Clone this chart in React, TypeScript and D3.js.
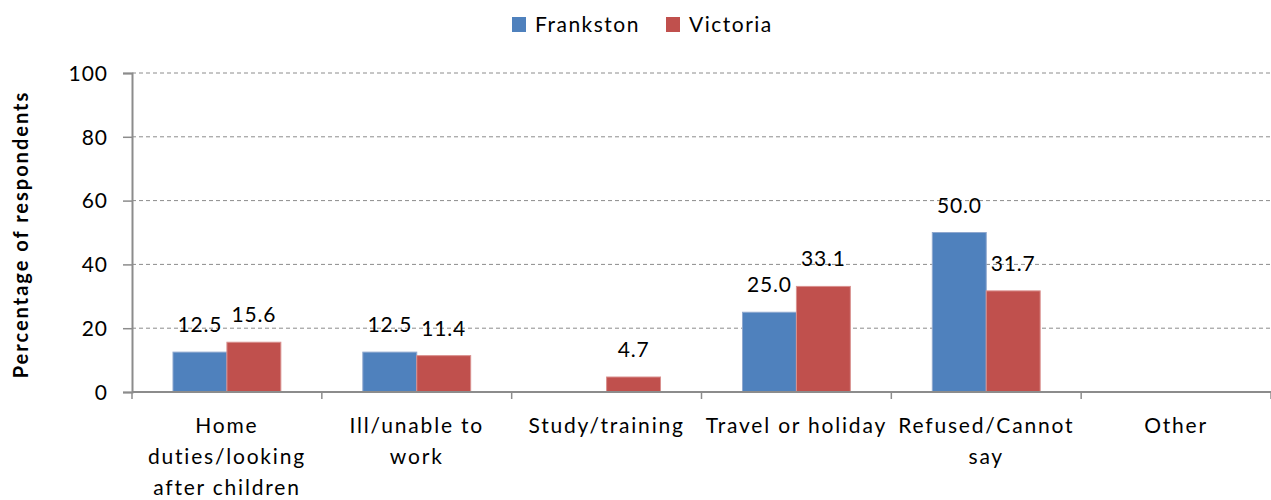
import { useRef, useEffect } from "react";
import * as d3 from "d3";

const categories = [
  "Home\nduties/looking\nafter children",
  "Ill/unable to\nwork",
  "Study/training",
  "Travel or holiday",
  "Refused/Cannot\nsay",
  "Other",
];
const frankston = [12.5, 12.5, 0, 25.0, 50.0, 0];
const victoria = [15.6, 11.4, 4.7, 33.1, 31.7, 0];
const seriesNames = ["Frankston", "Victoria"];
const seriesColors = ["#4F81BD", "#C0504D"];
const yTicks = [0, 20, 40, 60, 80, 100];

const FONT = "Lato, 'Open Sans', sans-serif";

const App = () => {
  const svgRef = useRef<SVGSVGElement>(null);

  useEffect(() => {
    const width = 1271;
    const height = 500;
    const svg = d3.select(svgRef.current);
    svg.selectAll("*").remove();

    const left = 132;
    const right = 1271;
    const top = 73;
    const bottom = 392;

    const x = d3.scaleBand().domain(categories).range([left, right]);
    const xInner = d3
      .scaleBand()
      .domain(seriesNames)
      .range([0, x.bandwidth()])
      .paddingInner(0)
      .paddingOuter(0.76);
    const y = d3.scaleLinear().domain([0, 100]).range([bottom, top]);

    // grid lines
    svg
      .append("g")
      .selectAll("line")
      .data(yTicks.filter((t) => t > 0))
      .enter()
      .append("line")
      .attr("x1", left)
      .attr("x2", right)
      .attr("y1", (d) => y(d))
      .attr("y2", (d) => y(d))
      .attr("stroke", "#8c8c8c")
      .attr("stroke-dasharray", "4,3")
      .attr("stroke-width", 1);

    // y axis
    const yAxis = svg
      .append("g")
      .attr("transform", `translate(${left},0)`)
      .call(d3.axisLeft(y).tickValues(yTicks).tickSize(9).tickPadding(15));
    yAxis.select(".domain").attr("stroke", "#8c8c8c").attr("stroke-width", 2);
    yAxis.selectAll(".tick line").attr("stroke", "#8c8c8c").attr("stroke-width", 1.5);
    yAxis
      .selectAll(".tick text")
      .attr("font-family", FONT)
      .attr("font-size", 21)
      .attr("letter-spacing", 1)
      .attr("fill", "#000")
      .attr("dy", "0.35em");

    // bars
    const series = [frankston, victoria];
    const groups = svg
      .append("g")
      .selectAll("g")
      .data(categories)
      .enter()
      .append("g")
      .attr("transform", (d) => `translate(${x(d)},0)`);

    groups.each(function (cat, i) {
      const g = d3.select(this);
      seriesNames.forEach((name, s) => {
        const v = series[s][i];
        if (v <= 0) return;
        const bx = xInner(name)!;
        g.append("rect")
          .attr("x", bx)
          .attr("y", y(v))
          .attr("width", xInner.bandwidth())
          .attr("height", y(0) - y(v))
          .attr("fill", seriesColors[s])
          .attr("stroke", s === 0 ? "#8fa8cf" : "#d9908e")
          .attr("stroke-width", 1);
        g.append("text")
          .attr("x", bx + xInner.bandwidth() / 2)
          .attr("y", y(v) - 20)
          .attr("text-anchor", "middle")
          .attr("font-family", FONT)
          .attr("font-size", 21)
          .attr("letter-spacing", 0.8)
          .text(v.toFixed(1));
      });
    });

    // x axis
    svg
      .append("line")
      .attr("x1", left)
      .attr("x2", right)
      .attr("y1", bottom)
      .attr("y2", bottom)
      .attr("stroke", "#8c8c8c")
      .attr("stroke-width", 2);
    const bounds = categories.map((c) => x(c)!).concat([right]);
    svg
      .append("g")
      .selectAll("line")
      .data(bounds)
      .enter()
      .append("line")
      .attr("x1", (d) => d)
      .attr("x2", (d) => d)
      .attr("y1", bottom)
      .attr("y2", bottom + 7)
      .attr("stroke", "#8c8c8c")
      .attr("stroke-width", 1.5);

    categories.forEach((c) => {
      const lines = c.split("\n");
      const t = svg
        .append("text")
        .attr("text-anchor", "middle")
        .attr("font-family", FONT)
        .attr("font-size", 21)
        .attr("letter-spacing", 1.8);
      lines.forEach((l, k) => {
        t.append("tspan")
          .attr("x", x(c)! + x.bandwidth() / 2)
          .attr("y", 433 + k * 31)
          .text(l);
      });
    });

    // y axis title
    svg
      .append("text")
      .attr("transform", `translate(28,${(top + bottom) / 2 + 2}) rotate(-90)`)
      .attr("text-anchor", "middle")
      .attr("font-family", FONT)
      .attr("font-size", 20)
      .attr("font-weight", "bold")
      .attr("letter-spacing", 2)
      .text("Percentage of respondents");

    // legend
    const legendX = [512, 666];
    seriesNames.forEach((name, s) => {
      svg
        .append("rect")
        .attr("x", legendX[s])
        .attr("y", 17)
        .attr("width", 14)
        .attr("height", 15)
        .attr("fill", seriesColors[s]);
      svg
        .append("text")
        .attr("x", legendX[s] + 23)
        .attr("y", 32)
        .attr("font-family", FONT)
        .attr("font-size", 21)
        .attr("letter-spacing", 1.5)
        .text(name);
    });

    svg.attr("width", width).attr("height", height);
  }, []);

  return (
    <svg
      ref={svgRef}
      style={{ position: "absolute", left: 0, top: 0, display: "block" }}
    />
  );
};

export default App;
